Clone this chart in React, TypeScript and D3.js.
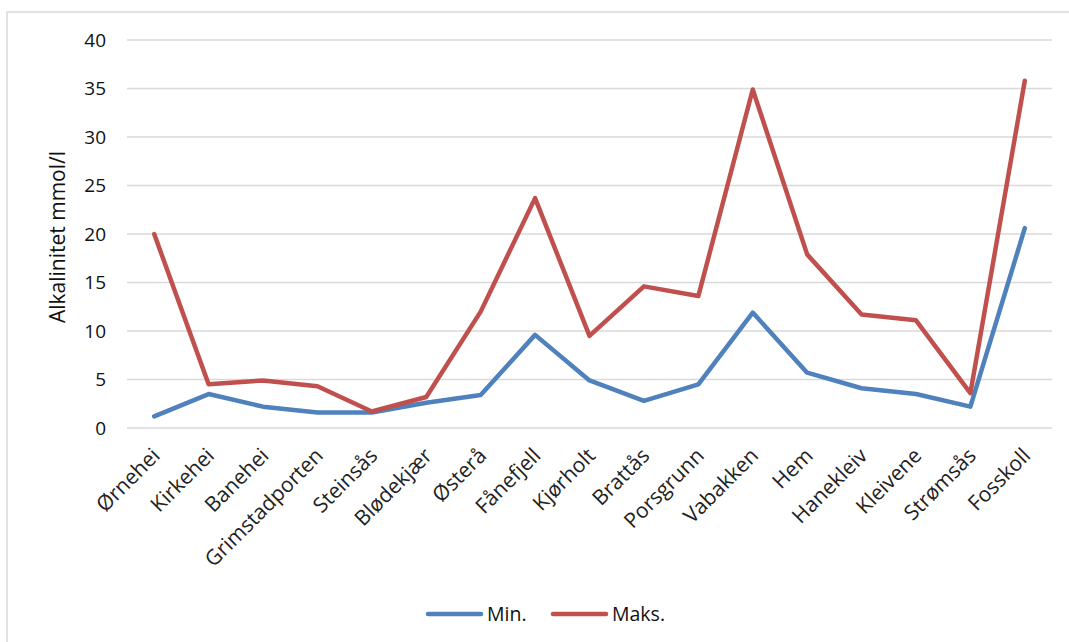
import React from "react";
import * as d3 from "d3";

const categories = ["Ørnehei","Kirkehei","Banehei","Grimstadporten","Steinsås","Blødekjær","Østerå","Fånefjell","Kjørholt","Brattås","Porsgrunn","Vabakken","Hem","Hanekleiv","Kleivene","Strømsås","Fosskoll"];
const minValues = [1.2,3.5,2.2,1.6,1.6,2.6,3.4,9.6,4.9,2.8,4.5,11.9,5.7,4.1,3.5,2.2,20.6];
const maxValues = [20.0,4.5,4.9,4.3,1.7,3.2,12.0,23.7,9.5,14.6,13.6,34.9,17.9,11.7,11.1,3.6,35.8];
const yTicks = [0,5,10,15,20,25,30,35,40];

const W = 1069, H = 642;
const FONT = "'Open Sans', 'Liberation Sans', sans-serif";

export default function App() {
  const x = d3.scaleBand<string>().domain(categories).range([127, 1052]);
  const y = d3.scaleLinear().domain([0, 40]).range([428, 40]);
  const cx = (c: string) => (x(c) as number) + x.bandwidth() / 2;
  const line = d3.line<number>().x((_, i) => cx(categories[i])).y((d) => y(d));
  return (
    <svg width={W} height={H} style={{ position: "absolute", left: 0, top: 0, background: "#fff" }}>
      <rect x={7} y={12} width={W} height={H} fill="#fff" stroke="#d9d9d9" strokeWidth={1.5} />
      {yTicks.map((t) => (
        <g key={t}>
          <line x1={127} x2={1052} y1={y(t)} y2={y(t)} stroke="#d9d9d9" strokeWidth={1.5} />
          <text x={106} y={y(t)} dy="0.36em" textAnchor="end" fontFamily={FONT} fontSize={19} fill="#111">{t}</text>
        </g>
      ))}
      <text transform={`translate(65,237) rotate(-90)`} textAnchor="middle" fontFamily={FONT} fontSize={21} fill="#111">Alkalinitet mmol/l</text>
      {categories.map((c) => (
        <text key={c} transform={`translate(${cx(c) + 7},457) rotate(-45)`} textAnchor="end" fontFamily={FONT} fontSize={21} fill="#222">{c}</text>
      ))}
      <path d={line(minValues) || ""} fill="none" stroke="#4F81BD" strokeWidth={4.5} strokeLinejoin="round" strokeLinecap="round" />
      <path d={line(maxValues) || ""} fill="none" stroke="#C0504D" strokeWidth={4.5} strokeLinejoin="round" strokeLinecap="round" />
      <line x1={428} x2={481} y1={614} y2={614} stroke="#4F81BD" strokeWidth={4.5} strokeLinecap="round" />
      <text x={487} y={614} dy="0.36em" fontFamily={FONT} fontSize={19.5} fill="#111">Min.</text>
      <line x1={553} x2={606} y1={614} y2={614} stroke="#C0504D" strokeWidth={4.5} strokeLinecap="round" />
      <text x={612} y={614} dy="0.36em" fontFamily={FONT} fontSize={19.5} fill="#111">Maks.</text>
    </svg>
  );
}
